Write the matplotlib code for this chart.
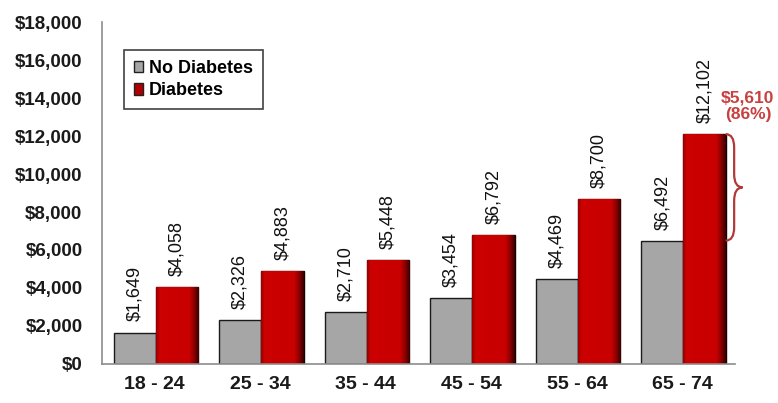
import numpy as np
import matplotlib
matplotlib.use("Agg")
import matplotlib.pyplot as plt
from matplotlib.path import Path
from matplotlib.patches import PathPatch, Patch
from matplotlib.colors import LinearSegmentedColormap

age_groups = ["18 - 24", "25 - 34", "35 - 44", "45 - 54", "55 - 64", "65 - 74"]
no_diabetes = [1649, 2326, 2710, 3454, 4469, 6492]
diabetes = [4058, 4883, 5448, 6792, 8700, 12102]
yticks = [0, 2000, 4000, 6000, 8000, 10000, 12000, 14000, 16000, 18000]
diff_label = "$5,610\n(86%)"

plt.rcParams["font.family"] = ["Liberation Sans", "DejaVu Sans"]

fig = plt.figure(figsize=(7.78, 4.03), dpi=100)
ax = fig.add_axes([0.131, 0.097, 0.814, 0.848])

x = np.arange(len(age_groups))
w = 0.40
gray_bars = ax.bar(x - w / 2 + 0.01, no_diabetes, w, color="#a6a6a6",
                   edgecolor="#1a1a1a", linewidth=1.0, label="No Diabetes", zorder=2)
red_bars = ax.bar(x + w / 2 + 0.01, diabetes, w, color="#c80000",
                  edgecolor="#1a0000", linewidth=1.0, label="Diabetes", zorder=2)

# horizontal shading across each red bar: darker toward the right edge
shade = LinearSegmentedColormap.from_list(
    "shade", [(0.0, "#9a0000"), (0.08, "#cc0000"), (0.78, "#c80000"),
              (0.9, "#8a0000"), (1.0, "#3a0000")])
grad = np.linspace(0, 1, 64).reshape(1, -1)
for b in red_bars:
    im = ax.imshow(grad, cmap=shade, aspect="auto",
                   extent=[b.get_x(), b.get_x() + b.get_width(), 0, b.get_height()],
                   zorder=2.1)
    im.set_clip_path(b)

for b, v in zip(list(gray_bars) + list(red_bars), no_diabetes + diabetes):
    ax.annotate(f"${v:,}", (b.get_x() + b.get_width() / 2, v),
                xytext=(0, 8), textcoords="offset points", rotation=90,
                ha="center", va="bottom", fontsize=13, color="#111111")

ax.set_xlim(-0.5, len(age_groups) - 0.5)
ax.set_ylim(0, 18000)
ax.set_yticks(yticks)
ax.set_yticklabels([f"${t:,}" for t in yticks])
ax.set_xticks(x)
ax.set_xticklabels(age_groups)
for lab in ax.get_yticklabels():
    lab.set_fontweight("bold")
    lab.set_fontsize(13.5)
    lab.set_color("#1a1a1a")
for lab in ax.get_xticklabels():
    lab.set_fontweight("bold")
    lab.set_fontsize(14)
    lab.set_color("#1a1a1a")
ax.tick_params(axis="y", length=0, pad=14)
ax.tick_params(axis="x", length=0, pad=9)
for s in ["top", "right"]:
    ax.spines[s].set_visible(False)
for s in ["left", "bottom"]:
    ax.spines[s].set_color("#8c8c8c")
    ax.spines[s].set_linewidth(1.2)

handles = [Patch(facecolor="#a6a6a6", edgecolor="#222222", label="No Diabetes"),
           Patch(facecolor="#b00000", edgecolor="#222222", label="Diabetes")]
leg = ax.legend(handles=handles, loc="upper left", bbox_to_anchor=(0.02, 0.945),
                frameon=True, fancybox=False, edgecolor="#111111",
                handlelength=0.55, handleheight=0.6, handletextpad=0.3,
                borderpad=0.55, labelspacing=0.3,
                prop={"weight": "bold", "size": 13})
leg.get_frame().set_linewidth(1.2)

# curly brace spanning the gap between the two 65-74 bars
i = len(age_groups) - 1
top, bot = diabetes[i], no_diabetes[i]
mid = (top + bot) / 2
x0, xm, x1 = i + 0.41, i + 0.49, i + 0.57
h = 700
verts = [(x0, top), (xm, top), (xm, top - h),
         (xm, mid + h),
         (xm, mid), (x1, mid),
         (xm, mid), (xm, mid - h),
         (xm, bot + h),
         (xm, bot), (x0, bot)]
codes = [Path.MOVETO, Path.CURVE3, Path.CURVE3,
         Path.LINETO,
         Path.CURVE3, Path.CURVE3,
         Path.CURVE3, Path.CURVE3,
         Path.LINETO,
         Path.CURVE3, Path.CURVE3]
ax.add_patch(PathPatch(Path(verts, codes), facecolor="none", edgecolor="#b03a3a",
                       linewidth=1.6, clip_on=False, zorder=3))
ax.text(i + 0.62, top + 1480, diff_label, ha="center", va="center",
        fontsize=12.5, fontweight="bold", color="#c84040", linespacing=1.1,
        clip_on=False)

fig.savefig("out.png", dpi=100, facecolor="white")
